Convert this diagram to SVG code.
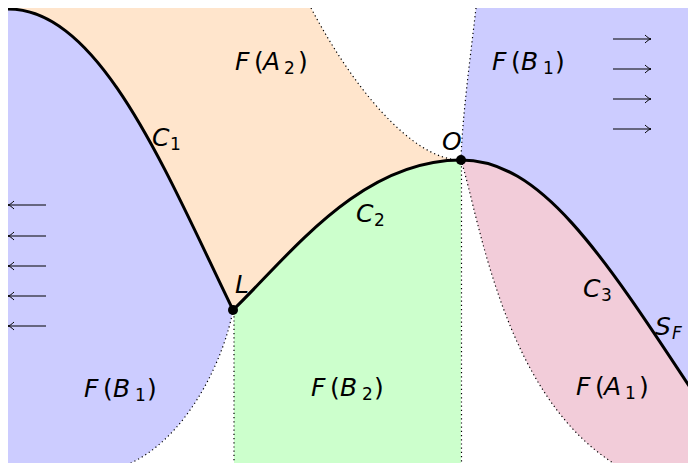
<svg xmlns="http://www.w3.org/2000/svg" width="688" height="463" viewBox="0 0 688 463">
<style>
.thick{fill:none;stroke:#000;stroke-width:3;stroke-linecap:round}
.dot{fill:none;stroke:#000;stroke-width:1.2;stroke-dasharray:1.2 3}
.arr{fill:none;stroke:#000;stroke-width:1;marker-end:url(#to)}
text{font-family:"DejaVu Sans","Open Sans",sans-serif;font-size:25px;fill:#000}
.it{font-style:italic}
.sub{font-size:17px}
</style>
<defs>
<clipPath id="clip"><rect x="8" y="8" width="690" height="470"/></clipPath>
<marker id="to" markerUnits="userSpaceOnUse" markerWidth="12" markerHeight="12" viewBox="-7 -6 8 12" refX="0" refY="0" orient="auto">
<path d="M -6 -4 C -3.5 -1.5 -1.5 -0.4 0 0 C -1.5 0.4 -3.5 1.5 -6 4" fill="none" stroke="#000" stroke-width="1"/>
</marker>
</defs>
<rect width="688" height="463" fill="#fff"/>
<g clip-path="url(#clip)">
<g id="region-B1-left"><path d="M 8 9 C 100 9 165 170 233 310 C 225 355 190 435 131 463 L 100 478 L 0 478 L 0 9 Z" fill="#ccccff"/></g>
<g id="region-A2"><path d="M 0 0 L 311 8 C 351 84 411 160 461 160 C 360 160 290 255 233 310 C 165 170 100 9 8 9 L 0 9 Z" fill="#ffe5cc"/></g>
<g id="region-B2"><path d="M 233 310 C 290 255 360 160 461 160 L 461 478 L 234 478 L 234 310 Z" fill="#ccffcc"/></g>
<g id="region-B1-right"><path d="M 476 8 C 470 60 462 120 461 160 C 540 160 600 250 695 395 L 700 395 L 700 0 L 476 0 Z" fill="#ccccff"/></g>
<g id="region-A1"><path d="M 461 160 C 540 160 600 250 695 395 L 700 395 L 700 478 L 640 478 L 625 470 C 505 405 480 220 461 160 Z" fill="#f2ccd9"/></g>
<g id="connectors">
<path class="dot" d="M 311 8 C 351 84 411 160 461 160"/>
<path class="dot" d="M 476 8 C 470 60 462 120 461 160"/>
<path class="dot" d="M 233 310 C 225 355 190 435 131 463 L 110 473"/>
<path class="dot" d="M 234 312 L 234 470"/>
<path class="dot" d="M 461.5 162 L 461.5 470"/>
<path class="dot" d="M 461 160 C 480 220 505 405 625 470"/>
<path class="thick" d="M 8 9 C 100 9 165 170 233 310"/>
<path class="thick" d="M 233 310 C 290 255 360 160 461 160"/>
<path class="thick" d="M 461 160 C 540 160 600 250 695 395"/>
<path class="arr" d="M 46 205 L 8 205"/>
<path class="arr" d="M 46 236 L 8 236"/>
<path class="arr" d="M 46 266 L 8 266"/>
<path class="arr" d="M 46 296 L 8 296"/>
<path class="arr" d="M 46 326 L 8 326"/>
<path class="arr" d="M 613 39 L 651 39"/>
<path class="arr" d="M 613 69 L 651 69"/>
<path class="arr" d="M 613 99 L 651 99"/>
<path class="arr" d="M 613 129 L 651 129"/>
</g>
</g>
<g id="point-L"><circle cx="233" cy="310" r="5"/><text class="it" x="235" y="293">L</text></g>
<g id="point-O"><circle cx="461" cy="160" r="5"/><text class="it" x="442" y="150">O</text></g>
<g id="label-C1"><text x="152" y="146"><tspan class="it">C</tspan><tspan class="sub" x="170" y="150">1</tspan></text></g>
<g id="label-C2"><text x="356" y="222"><tspan class="it">C</tspan><tspan class="sub" x="374" y="226">2</tspan></text></g>
<g id="label-C3"><text x="583" y="297"><tspan class="it">C</tspan><tspan class="sub" x="601" y="301">3</tspan></text></g>
<g id="label-SF"><text x="655" y="335"><tspan class="it">S</tspan><tspan class="sub it" x="672" y="339">F</tspan></text></g>
<g id="label-FA2"><text x="235" y="70"><tspan class="it">F</tspan><tspan x="254">(</tspan><tspan class="it" x="263">A</tspan><tspan class="sub" x="284" y="74">2</tspan><tspan x="298" y="70">)</tspan></text></g>
<g id="label-FB1-right"><text x="492" y="70"><tspan class="it">F</tspan><tspan x="511">(</tspan><tspan class="it" x="521">B</tspan><tspan class="sub" x="543" y="74">1</tspan><tspan x="555" y="70">)</tspan></text></g>
<g id="label-FB1-left"><text x="84" y="397"><tspan class="it">F</tspan><tspan x="103">(</tspan><tspan class="it" x="113">B</tspan><tspan class="sub" x="135" y="401">1</tspan><tspan x="147" y="397">)</tspan></text></g>
<g id="label-FB2"><text x="311" y="396"><tspan class="it">F</tspan><tspan x="330">(</tspan><tspan class="it" x="340">B</tspan><tspan class="sub" x="362" y="400">2</tspan><tspan x="374" y="396">)</tspan></text></g>
<g id="label-FA1"><text x="576" y="395"><tspan class="it">F</tspan><tspan x="595">(</tspan><tspan class="it" x="604">A</tspan><tspan class="sub" x="625" y="399">1</tspan><tspan x="639" y="395">)</tspan></text></g>
</svg>
